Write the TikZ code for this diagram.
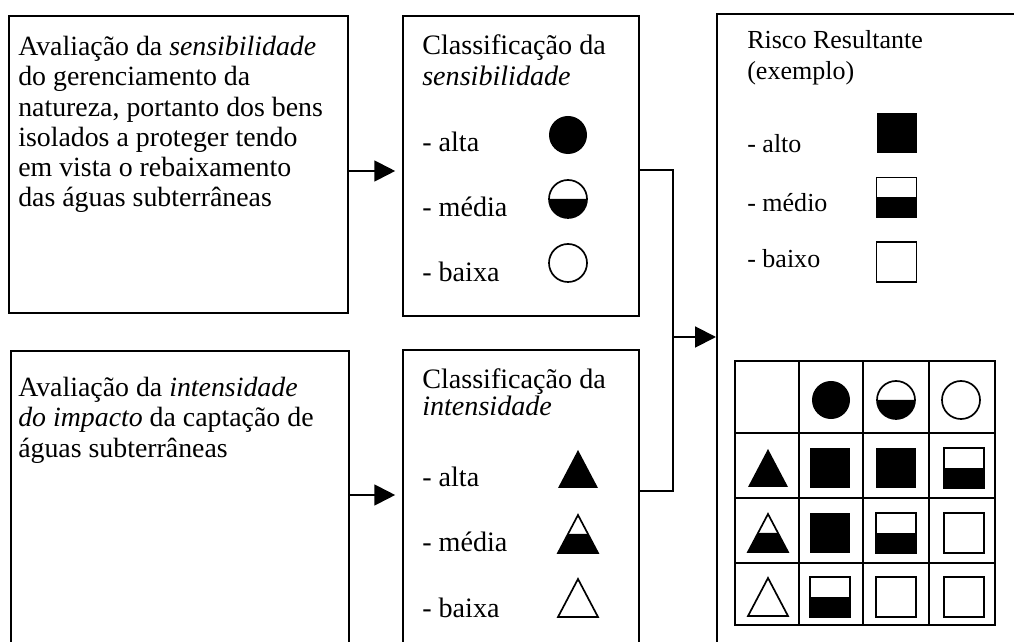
\documentclass[tikz,border=0pt]{standalone}
\usepackage{fontspec}
\setmainfont{Liberation Serif}
\usetikzlibrary{arrows.meta}
\tikzset{
  sym/.style={line width=1.2pt},
  fullc/.pic={\fill (0,0) circle[radius=0.475cm];},
  halfc/.pic={\fill (-19,0) arc[start angle=180,end angle=360,radius=0.475cm] -- cycle;
              \draw[sym] (0,0) circle[radius=0.475cm];},
  openc/.pic={\draw[sym] (0,0) circle[radius=0.475cm];},
  fullt/.pic={\fill (0,-19) -- (20,19) -- (-20,19) -- cycle;},
  halft/.pic={\fill (-10,0) -- (10,0) -- (20,19) -- (-20,19) -- cycle;
              \draw[sym, line join=miter] (0,-19) -- (20,19) -- (-20,19) -- cycle;},
  opent/.pic={\draw[sym, line join=miter] (0,-19) -- (20,19) -- (-20,19) -- cycle;},
  fulls/.pic={\fill (-20,-20) rectangle (20,20);},
  halfs/.pic={\fill (-20,0) rectangle (20,20); \draw[sym] (-20,-20) rectangle (20,20);},
  opens/.pic={\draw[sym] (-20,-20) rectangle (20,20);},
}
\begin{document}
\begin{tikzpicture}[x=0.025cm,y=-0.025cm,
  box/.style={draw, line width=1.4pt, inner sep=0pt, anchor=north west},
  rbox/.style={draw, line width=1.1pt, inner sep=0pt, anchor=north west},
  txta/.style={anchor=north west, inner sep=0pt, align=left, font=\fontsize{19.8}{21.5}\selectfont},
  txtb/.style={anchor=north west, inner sep=0pt, align=left, font=\fontsize{20}{22.5}\selectfont},
  txtc/.style={anchor=north west, inner sep=0pt, align=left, font=\fontsize{20}{19.8}\selectfont},
  txtr/.style={anchor=north west, inner sep=0pt, align=left, font=\fontsize{18.5}{22}\selectfont},
  lbl/.style={anchor=base west, inner sep=0pt, font=\fontsize{20}{22}\selectfont},
  rlbl/.style={anchor=base west, inner sep=0pt, font=\fontsize{18.5}{22}\selectfont},
  arr/.style={line width=1.4pt, -{Triangle[length=0.52cm,width=0.52cm]}},
  conn/.style={line width=1.4pt},
  grid/.style={line width=1.4pt},
]
\useasboundingbox (0,0) rectangle (1014,642);
\clip (0,0) rectangle (1014,642);

% boxes
\node[box, minimum width=8.475cm, minimum height=7.425cm] (b1) at (8,15) {};
\node[box, minimum width=5.9cm, minimum height=7.5cm] (b2) at (402,15) {};
\node[rbox, minimum width=7.85cm, minimum height=16.175cm] (b3) at (716,13) {};
\node[box, minimum width=8.45cm, minimum height=7.75cm] (b4) at (10,350) {};
\node[box, minimum width=5.9cm, minimum height=7.775cm] (b5) at (402,349) {};

% texts
\node[txta] (t1) at (18,36) {Avaliação da \textit{sensibilidade}\\do gerenciamento da\\natureza, portanto dos bens\\isolados a proteger tendo\\em vista o rebaixamento\\das águas subterrâneas};
\node[txta] (t4) at (18,377) {Avaliação da \textit{intensidade}\\\textit{do impacto} da captação de\\águas subterrâneas};
\node[txtb] (t2) at (422,34) {Classificação da\\\textit{sensibilidade}};
\node[txtc] (t5) at (422,368) {Classificação da\\\textit{intensidade}};
\node[txtr] (t3) at (747,30) {Risco Resultante\\(exemplo)};

% labels box 2
\node[lbl] (l2a) at (422,152) {- alta};
\node[lbl] (l2m) at (422,217) {- média};
\node[lbl] (l2b) at (422,282) {- baixa};
\pic (c2a) at (568,135) {fullc};
\pic (c2m) at (568,199) {halfc};
\pic (c2b) at (568,263) {openc};

% labels box 5
\node[lbl] (l5a) at (422,487) {- alta};
\node[lbl] (l5m) at (422,552) {- média};
\node[lbl] (l5b) at (422,617) {- baixa};
\pic (t5a) at (578,469) {fullt};
\pic (t5m) at (578,534) {halft};
\pic (t5b) at (578,598) {opent};

% legend box 3
\node[rlbl] (l3a) at (747,153) {- alto};
\node[rlbl] (l3m) at (747,212) {- médio};
\node[rlbl] (l3b) at (747,268) {- baixo};
\begin{scope}[sym/.style={line width=1pt}]
\pic (s3a) at (896.5,133) {fulls};
\pic (s3m) at (896.5,197.5) {halfs};
\pic (s3b) at (896.5,262) {opens};
\end{scope}

% grid
\draw[grid] (735,361) rectangle (995,625);
\draw[grid] (799,361) -- (799,625) (863,361) -- (863,625) (929,361) -- (929,625);
\draw[grid] (735,433) -- (995,433) (735,498) -- (995,498) (735,563) -- (995,563);
\pic (g01) at (831,400) {fullc};
\pic (g02) at (896,400) {halfc};
\pic (g03) at (961,400) {openc};
\pic (g10) at (768,468) {fullt};
\pic (g11) at (830,468) {fulls};
\pic (g12) at (896,468) {fulls};
\pic (g13) at (964,468) {halfs};
\pic (g20) at (768,533) {halft};
\pic (g21) at (830,533) {fulls};
\pic (g22) at (896,533) {halfs};
\pic (g23) at (964,533) {opens};
\pic (g30) at (768,597) {opent};
\pic (g31) at (830,597) {halfs};
\pic (g32) at (896,597) {opens};
\pic (g33) at (964,597) {opens};

% connectors
\coordinate (y1) at (0,171);
\coordinate (y2) at (0,170);
\coordinate (y4) at (0,495);
\coordinate (y5) at (0,491);
\coordinate (ya) at (0,337);
\coordinate (xj) at (673,0);
\draw[arr, shorten >=0.17cm] (b1.east |- y1) -- (b2.west |- y1);
\draw[arr, shorten >=0.17cm] (b4.east |- y4) -- (b5.west |- y4);
\draw[conn] (b2.east |- y2) -| (xj |- y5) -- (b5.east |- y5);
\draw[arr] (xj |- ya) -- (b3.west |- ya);
\end{tikzpicture}
\end{document}
